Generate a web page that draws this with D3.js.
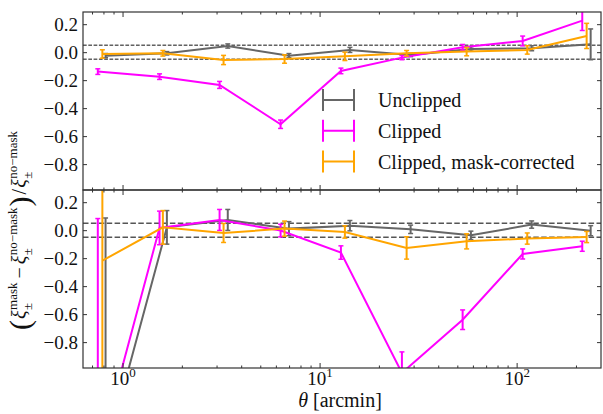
<!DOCTYPE html>
<html><head><meta charset="utf-8">
<script src="https://cdn.jsdelivr.net/npm/d3@7"></script>
<style>
html,body{margin:0;padding:0;background:#fff;}
text{font-family:"Liberation Serif","Times New Roman",serif;fill:#111;}
</style></head>
<body><svg id="chart" width="603" height="414"></svg>
<script>
// ---------------- data ----------------
const seriesNames = ["Unclipped", "Clipped", "Clipped, mask-corrected"];
const seriesColors = ["#666666", "#ff00ff", "#ffa500"];

const thetaUnclipped = [0.820, 1.679, 3.42, 6.99, 14.25, 28.97, 58.6, 119.2, 237.5];
const thetaClipped   = [0.749, 1.541, 3.108, 6.34, 12.83, 26.17, 53.2, 107.3, 215.3];
const thetaCorrected = [0.790, 1.602, 3.256, 6.64, 13.44, 27.65, 55.75, 113.2, 226.6];

// top panel: relative difference
const topUnclipped     = [-0.025, -0.008, 0.044, -0.025, 0.016, -0.020, 0.023, 0.028, 0.056];
const topUnclippedErr  = [0.015, 0.012, 0.015, 0.015, 0.018, 0.012, 0.015, 0.018, 0.110];
const topClipped       = [-0.139, -0.175, -0.234, -0.515, -0.134, -0.039, 0.035, 0.080, 0.225];
const topClippedErr    = [0.020, 0.020, 0.025, 0.030, 0.020, 0.015, 0.020, 0.035, 0.070];
const topCorrected     = [-0.013, -0.008, -0.056, -0.049, -0.030, -0.008, 0.004, 0.016, 0.116];
const topCorrectedErr  = [0.030, 0.020, 0.033, 0.030, 0.030, 0.020, 0.030, 0.030, 0.090];

// bottom panel
const botUnclipped     = [-1.60, 0.020, 0.073, 0.011, 0.032, 0.006, -0.037, 0.040, -0.004];
const botUnclippedErr  = [1.687, 0.120, 0.075, 0.050, 0.037, 0.030, 0.030, 0.026, 0.036];
const botClipped       = [-1.63, 0.016, 0.073, -0.003, -0.160, -1.02, -0.640, -0.170, -0.115];
const botClippedErr    = [1.713, 0.120, 0.075, 0.045, 0.048, 0.150, 0.070, 0.036, 0.036];
const botCorrected     = [-0.218, 0.020, -0.020, 0.011, -0.013, -0.127, -0.080, -0.060, -0.049];
const botCorrectedErr  = [1.40, 0.120, 0.068, 0.054, 0.044, 0.080, 0.054, 0.040, 0.040];

const yTickValues = [-0.8, -0.6, -0.4, -0.2, 0.0, 0.2];
const xMajorTicks = [1, 10, 100];
const xMajorExponents = ["0", "1", "2"];
const bandLevels = [-0.05, 0.05];

// ---------------- layout ----------------
const svg = d3.select("#chart");
const L = 83, R = 601;
const x = d3.scaleLog().domain([0.63, 268]).range([L, R]);
const panels = [
  {y: d3.scaleLinear().domain([-0.985, 0.287]).range([190, 12]), top: 12, bot: 190,
   data: [[thetaUnclipped, topUnclipped, topUnclippedErr],
          [thetaClipped, topClipped, topClippedErr],
          [thetaCorrected, topCorrected, topCorrectedErr]],
   dash: {color: "#111", width: 1, arr: "3.7,1.6"}},
  {y: d3.scaleLinear().domain([-0.985, 0.287]).range([368, 190]), top: 190, bot: 368,
   data: [[thetaUnclipped, botUnclipped, botUnclippedErr],
          [thetaClipped, botClipped, botClippedErr],
          [thetaCorrected, botCorrected, botCorrectedErr]],
   dash: {color: "#555", width: 1.5, arr: "5.5,2.4"}}
];
const minorTicks = x.ticks().filter(v => xMajorTicks.indexOf(v) < 0);
const frameColor = "#333";

panels.forEach((p, pi) => {
  const cid = "clip" + pi;
  svg.append("clipPath").attr("id", cid).append("rect")
    .attr("x", L).attr("y", p.top).attr("width", R - L).attr("height", p.bot - p.top);
  const g = svg.append("g").attr("clip-path", `url(#${cid})`);

  // dashed reference lines
  g.selectAll("line.band").data(bandLevels).enter().append("line")
    .attr("x1", L).attr("x2", R)
    .attr("y1", d => p.y(d)).attr("y2", d => p.y(d))
    .attr("stroke", p.dash.color).attr("stroke-width", p.dash.width)
    .attr("stroke-dasharray", p.dash.arr);

  const line = d3.line().x(d => x(d[0])).y(d => p.y(d[1]));
  p.data.forEach((s, si) => {
    const pts = s[0].map((t, i) => [t, s[1][i], s[2][i]]);
    const col = seriesColors[si];
    g.append("path").datum(pts).attr("d", line)
      .attr("fill", "none").attr("stroke", col).attr("stroke-width", 2);
    const eb = g.append("g");
    pts.forEach(d => {
      const cx = x(d[0]), y1 = p.y(d[1] - d[2]), y2 = p.y(d[1] + d[2]);
      eb.append("line").attr("x1", cx).attr("x2", cx).attr("y1", y1).attr("y2", y2)
        .attr("stroke", col).attr("stroke-width", 2);
      [y1, y2].forEach(yy => eb.append("line")
        .attr("x1", cx - 2.5).attr("x2", cx + 2.5).attr("y1", yy).attr("y2", yy)
        .attr("stroke", col).attr("stroke-width", 1.5));
    });
  });

  // axes (inward ticks on all sides)
  const axB = svg.append("g").attr("transform", `translate(0,${p.bot})`)
    .call(d3.axisBottom(x).tickValues(xMajorTicks).tickSize(-5).tickPadding(6).tickFormat(() => ""));
  svg.append("g").attr("transform", `translate(0,${p.bot})`)
    .call(d3.axisBottom(x).tickValues(minorTicks).tickSize(-2.5).tickFormat(() => ""));
  svg.append("g").attr("transform", `translate(0,${p.top})`)
    .call(d3.axisTop(x).tickValues(xMajorTicks).tickSize(-5).tickFormat(() => ""));
  svg.append("g").attr("transform", `translate(0,${p.top})`)
    .call(d3.axisTop(x).tickValues(minorTicks).tickSize(-2.5).tickFormat(() => ""));
  svg.append("g").attr("class", "yax").attr("transform", `translate(${L},0)`)
    .call(d3.axisLeft(p.y).tickValues(yTickValues).tickSize(-4).tickPadding(5).tickFormat(d3.format(".1f")));
  svg.append("g").attr("transform", `translate(${R},0)`)
    .call(d3.axisRight(p.y).tickValues(yTickValues).tickSize(-4).tickFormat(() => ""));

  if (pi === 1) {
    axB.selectAll(".tick").each(function(d, i) {
      const t = d3.select(this).append("text").attr("y", 17).attr("text-anchor", "middle")
        .style("font-size", "19px").attr("fill", "#111");
      t.append("tspan").text("10");
      t.append("tspan").attr("dy", -8).style("font-size", "13px").text(xMajorExponents[i]);
    });
  }
});

svg.selectAll(".domain").remove();
svg.selectAll(".tick line").attr("stroke", frameColor).attr("stroke-width", 1);
svg.selectAll(".yax text").style("font-size", "19px").attr("fill", "#111");

// frames
panels.forEach(p => svg.append("rect").attr("x", L).attr("y", p.top)
  .attr("width", R - L).attr("height", p.bot - p.top)
  .attr("fill", "none").attr("stroke", frameColor).attr("stroke-width", 1.2));

// x label
const xl = svg.append("text").attr("x", 340).attr("y", 407).attr("text-anchor", "middle")
  .style("font-size", "20px");
xl.append("tspan").style("font-style", "italic").text("θ");
xl.append("tspan").text(" [arcmin]");

// legend
const lg = svg.append("g");
seriesNames.forEach((name, i) => {
  const yy = 100 + i * 30.8, col = seriesColors[i];
  lg.append("line").attr("x1", 322).attr("x2", 355).attr("y1", yy).attr("y2", yy)
    .attr("stroke", col).attr("stroke-width", 2);
  [323, 354].forEach(xx => lg.append("line").attr("x1", xx).attr("x2", xx)
    .attr("y1", yy - 11).attr("y2", yy + 11).attr("stroke", col).attr("stroke-width", 2));
  lg.append("text").attr("x", 378).attr("y", yy + 7).style("font-size", "20px").text(name);
});

// y label (rotated, with stacked sub/superscripts)
const yl = svg.append("g").attr("transform", "translate(26,230) rotate(-90)");
const inner = yl.append("g");
let cx = 0;
function put(txt, size, dy, italic) {
  const t = inner.append("text").attr("x", cx).attr("y", dy).style("font-size", size + "px")
    .style("font-style", italic ? "italic" : "normal").text(txt);
  return t.node().getComputedTextLength();
}
function xi(sup) {
  cx += put("ξ", 20, 0, true) + 0.5;
  const w1 = put(sup, 13, -9, false);
  const w2 = put("±", 13, 6, false);
  cx += Math.max(w1, w2) + 1;
}
cx += put("(", 30, 4, false) + 1;
xi("mask");
cx += 3; cx += put("−", 20, 0, false) + 3;
xi("no−mask");
cx += put(")", 30, 4, false) + 2;
cx += put("/", 20, 0, false) + 1;
xi("no−mask");
inner.attr("transform", `translate(${-cx / 2},0)`);
</script></body></html>
